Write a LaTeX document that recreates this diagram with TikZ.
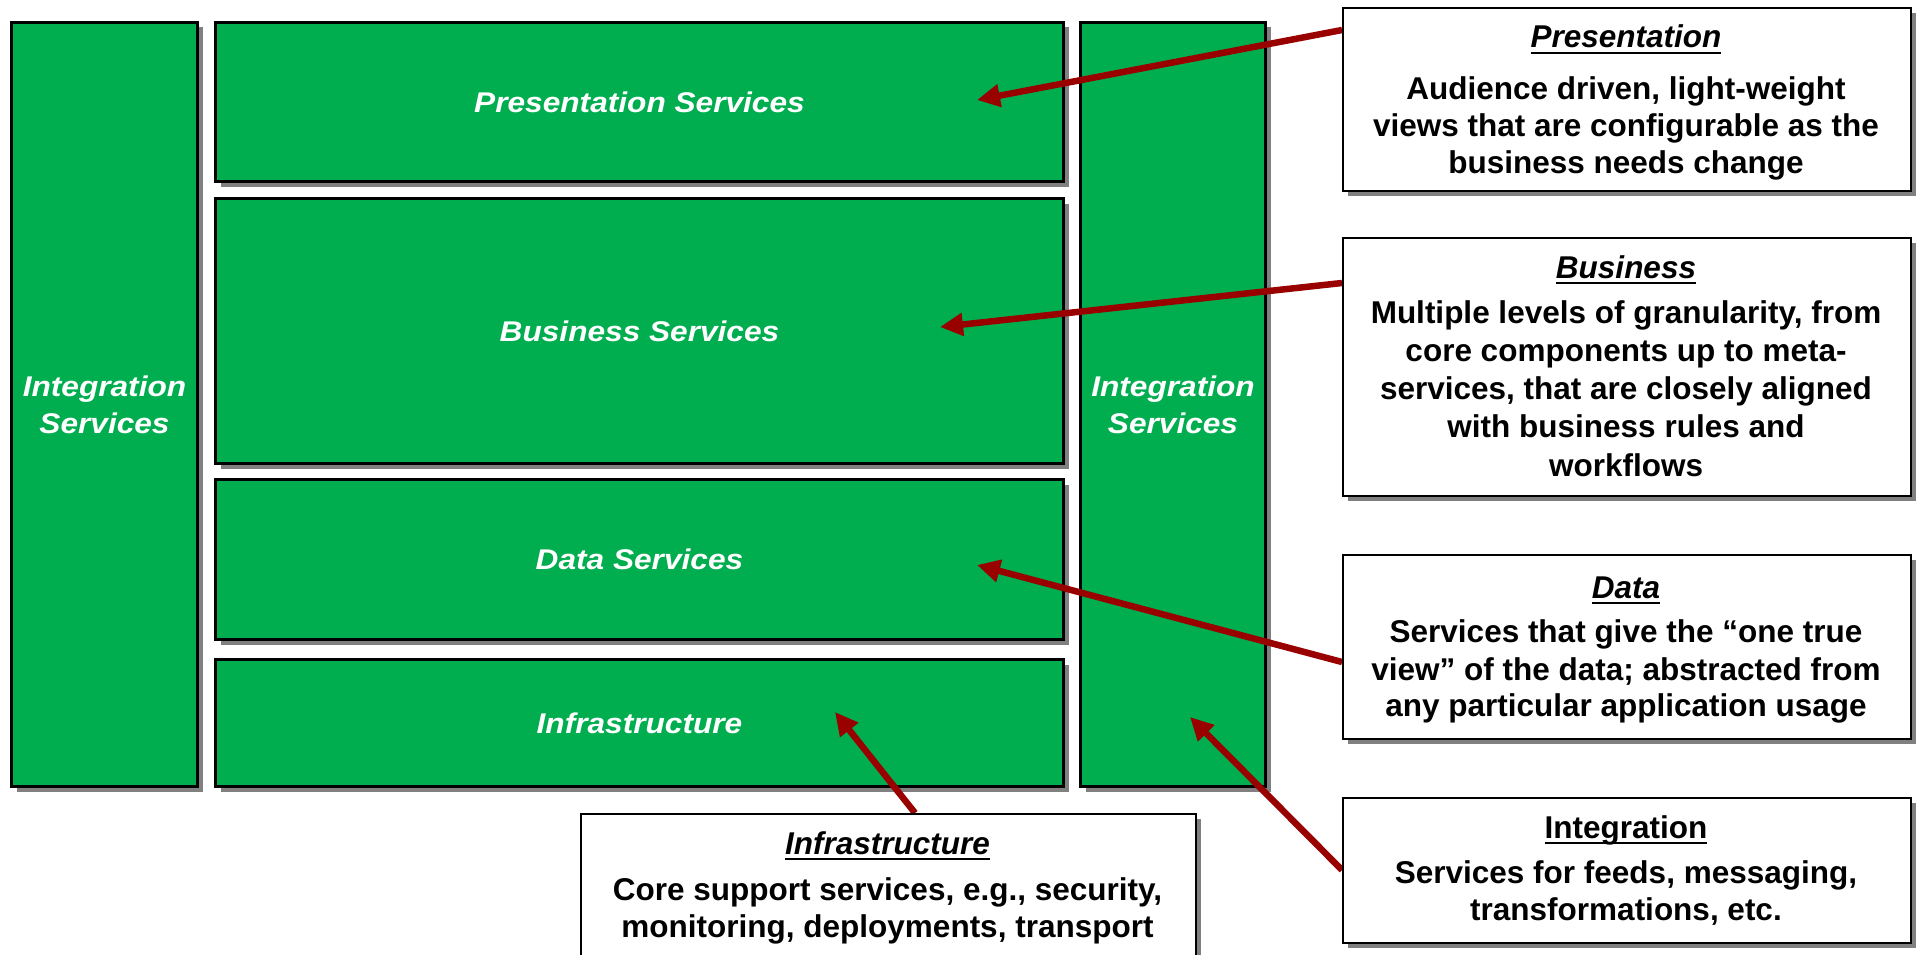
\documentclass[tikz,border=0pt]{standalone}
\usepackage{fontspec}
\setmainfont{Liberation Sans}
\newfontfamily\labelfamily[FakeStretch=1.11]{Liberation Sans}
\usetikzlibrary{arrows.meta,shadows}
\definecolor{layergreen}{RGB}{0,174,80}
\definecolor{arrowred}{RGB}{153,0,0}
\definecolor{shadowgray}{RGB}{128,128,128}
% underlined heading with a rule at a fixed depth
\newcommand\titleline[1]{\setbox0\hbox{#1}\rlap{\rule[-6pt]{\wd0}{2pt}}\box0}

\begin{document}
\begin{tikzpicture}[x=1pt,y=-1pt,
  boxshadow/.style={drop shadow={shadow xshift=5pt,shadow yshift=-5pt,fill=shadowgray,opacity=1}},
  layer/.style={boxshadow,draw=black,line width=3pt,fill=layergreen,text=white,
    anchor=north west,inner sep=0pt,align=center,
    font=\labelfamily\bfseries\itshape\fontsize{28.5}{37}\selectfont},
  callout/.style={boxshadow,draw=black,line width=2pt,fill=white,anchor=north west,inner sep=0pt},
  calltitle/.style={anchor=base,inner sep=0pt,font=\bfseries\itshape\fontsize{31.5}{36}\selectfont},
  calltitleup/.style={anchor=base,inner sep=0pt,font=\bfseries\fontsize{31.5}{36}\selectfont},
  callline/.style={anchor=base,inner sep=0pt,font=\bfseries\fontsize{31.5}{36}\selectfont},
  pointer/.style={draw=arrowred,line width=6.5pt,-{Triangle[length=23pt,width=22pt]}},
]
\useasboundingbox (0,0) rectangle (1917,955);

% service layers
\node[layer,minimum width=186pt,minimum height=764pt] (intLeft) at (10,21) {Integration\\Services};
\node[layer,minimum width=848pt,minimum height=159pt] (pres) at (214,21) {Presentation Services};
\node[layer,minimum width=848pt,minimum height=265pt] (bus) at (214,197) {Business Services};
\node[layer,minimum width=848pt,minimum height=160pt] (data) at (214,478) {Data Services};
\node[layer,minimum width=848pt,minimum height=127pt] (infra) at (214,658) {Infrastructure};
\node[layer,minimum width=185pt,minimum height=764pt] (intRight) at (1079,21) {Integration\\Services};

% arrow targets
\coordinate (presTip) at (977,100);
\coordinate (busTip) at (940,327);
\coordinate (dataTip) at (977,565);
\coordinate (infraTip) at (835,712);
\coordinate (intTip) at (1190,717);

% callout corners (the arrows start on their edges)
\path
  (1342,7)   coordinate (presCallNW)
  (1342,237) coordinate (busCallNW)
  (1342,554) coordinate (dataCallNW)
  (1342,797) coordinate (intCallNW)
  (580,813)  coordinate (infraCallNW);

\draw[pointer] ([yshift=-23pt]presCallNW) -- (presTip);
\draw[pointer] ([yshift=-46pt]busCallNW) -- (busTip);
\draw[pointer] ([yshift=-108pt]dataCallNW) -- (dataTip);
\draw[pointer] ([yshift=-73pt]intCallNW) -- (intTip);
\draw[pointer] ([xshift=335pt]infraCallNW) -- (infraTip);

\node[callout,minimum width=568pt,minimum height=183pt] (presCall) at (presCallNW) {};
\node[callout,minimum width=568pt,minimum height=258pt] (busCall) at (busCallNW) {};
\node[callout,minimum width=568pt,minimum height=184pt] (dataCall) at (dataCallNW) {};
\node[callout,minimum width=568pt,minimum height=145pt] (intCall) at (intCallNW) {};
\node[callout,minimum width=615pt,minimum height=170pt] (infraCall) at (infraCallNW) {};

% callout texts
\node[calltitle] (presTitle) at (1626,48) {\titleline{Presentation}};
\foreach \txt/\yy [count=\i] in {{Audience driven, light-weight}/100,
    {views that are configurable as the}/137,{business needs change}/173}
  \node[callline] (presL\i) at (1626,\yy) {\txt};

\node[calltitle] (busTitle) at (1626,278) {\titleline{Business}};
\foreach \txt/\yy [count=\i] in {{Multiple levels of granularity, from}/323,
    {core components up to meta-}/361,{services, that are closely aligned}/399,
    {with business rules and}/437,{workflows}/476}
  \node[callline] (busL\i) at (1626,\yy) {\txt};

\node[calltitle] (dataTitle) at (1626,598) {\titleline{Data}};
\foreach \txt/\yy [count=\i] in {{Services that give the “one true}/642,
    {view” of the data; abstracted from}/680,{any particular application usage}/716}
  \node[callline] (dataL\i) at (1626,\yy) {\txt};

\node[calltitleup] (intTitle) at (1626,838) {\titleline{Integration}};
\foreach \txt/\yy [count=\i] in {{Services for feeds, messaging,}/883,
    {transformations, etc.}/920}
  \node[callline] (intL\i) at (1626,\yy) {\txt};

\node[calltitle] (infraTitle) at (887.5,854) {\titleline{Infrastructure}};
\foreach \txt/\yy [count=\i] in {{Core support services, e.g., security,}/900,
    {monitoring, deployments, transport}/937}
  \node[callline] (infraL\i) at (887.5,\yy) {\txt};
\end{tikzpicture}
\end{document}
